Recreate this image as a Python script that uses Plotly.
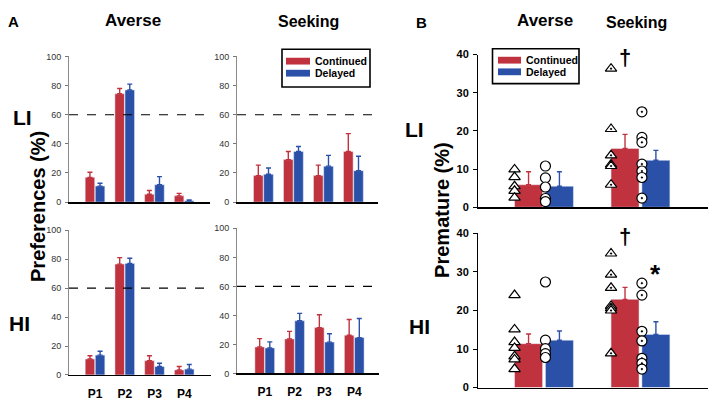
import plotly.graph_objects as go

# ---------------- data ----------------
positions = ["P1", "P2", "P3", "P4"]
groups = ["Averse", "Seeking"]
series_names = ["Continued", "Delayed"]

# Panel A - Preferences (%), mean and upper SEM
li_averse_cont = [17.0, 74.4, 5.4, 4.3]
li_averse_cont_err = [3.5, 3.6, 2.6, 1.7]
li_averse_del = [11.0, 77.0, 12.0, 1.0]
li_averse_del_err = [2.0, 4.0, 5.5, 0.5]
li_seek_cont = [18.2, 29.2, 18.2, 34.8]
li_seek_cont_err = [7.2, 5.6, 7.2, 12.2]
li_seek_del = [19.1, 34.8, 24.7, 21.6]
li_seek_del_err = [4.3, 3.4, 7.4, 9.9]
hi_averse_cont = [11.0, 76.6, 9.9, 3.4]
hi_averse_cont_err = [2.3, 4.5, 3.4, 2.4]
hi_averse_del = [13.7, 77.1, 5.8, 4.0]
hi_averse_del_err = [2.7, 3.6, 2.3, 3.2]
hi_seek_cont = [18.3, 23.8, 31.6, 26.3]
hi_seek_cont_err = [5.7, 5.2, 8.9, 10.9]
hi_seek_del = [17.6, 36.3, 21.6, 24.7]
hi_seek_del_err = [4.2, 5.1, 5.8, 13.2]
pref_ref_level = 60

# Panel B - Premature (%), mean and upper SEM
li_prem_cont = [5.9, 15.4]
li_prem_cont_err = [3.4, 3.7]
li_prem_del = [5.5, 12.3]
li_prem_del_err = [3.8, 2.6]
hi_prem_cont = [11.4, 22.9]
hi_prem_cont_err = [2.5, 3.1]
hi_prem_del = [12.3, 13.8]
hi_prem_del_err = [2.4, 3.3]

# individual animals (Averse list, Seeking list)
li_cont_pts = [[9.9, 7.9, 5.5, 4.3, 2.5], [36.3, 20.5, 13.6, 11.2, 10.8, 5.9]]
li_del_pts = [[10.8, 7.7, 5.3, 2.3, 1.5], [25.0, 18.3, 17.0, 11.3, 9.5, 7.8, 2.4]]
hi_cont_pts = [[24.0, 15.1, 11.8, 10.3, 8.1, 7.3, 4.8], [34.8, 29.3, 25.9, 21.2, 20.6, 20.0, 8.9]]
hi_del_pts = [[27.4, 12.3, 10.1, 8.8, 7.8], [27.1, 24.0, 14.6, 12.1, 7.6, 6.3, 4.8]]

# significance marks: (group, series, y, text)
li_marks = [("Seeking", "cont", 39.2, "†")]
hi_marks = [("Seeking", "cont", 39.1, "†"), ("Seeking", "del", 29.4, "*")]

# ---------------- style ----------------
RED = "#c1323f"
BLUE = "#2b50a8"
FONT = "Liberation Sans, Arial, sans-serif"
NARROW = "Liberation Sans Narrow, Arial Narrow, Liberation Sans, sans-serif"
W, H = 714, 412

fig = go.Figure()

A_W, A_RED_OFF, A_BLUE_OFF = 0.32, -0.33, 0.01
B_W, B_RED_OFF, B_BLUE_OFF = 0.29, -0.305, 0.015


def err(arr, col):
    return dict(type="data", array=arr, arrayminus=[0] * len(arr), symmetric=False,
                color=col, thickness=1.4, width=2.5)


def add_pair(x, cont, cont_e, dele, dele_e, ax, bw, roff, boff):
    fig.add_trace(go.Bar(x=x, y=cont, name=series_names[0], marker_color=RED, width=bw, offset=roff,
                         error_y=err(cont_e, RED), xaxis="x" + ax, yaxis="y" + ax, showlegend=False))
    fig.add_trace(go.Bar(x=x, y=dele, name=series_names[1], marker_color=BLUE, width=bw, offset=boff,
                         error_y=err(dele_e, BLUE), xaxis="x" + ax, yaxis="y" + ax, showlegend=False))


add_pair(positions, li_averse_cont, li_averse_cont_err, li_averse_del, li_averse_del_err, "", A_W, A_RED_OFF, A_BLUE_OFF)
add_pair(positions, li_seek_cont, li_seek_cont_err, li_seek_del, li_seek_del_err, "2", A_W, A_RED_OFF, A_BLUE_OFF)
add_pair(positions, hi_averse_cont, hi_averse_cont_err, hi_averse_del, hi_averse_del_err, "3", A_W, A_RED_OFF, A_BLUE_OFF)
add_pair(positions, hi_seek_cont, hi_seek_cont_err, hi_seek_del, hi_seek_del_err, "4", A_W, A_RED_OFF, A_BLUE_OFF)

gidx = list(range(len(groups)))
add_pair(gidx, li_prem_cont, li_prem_cont_err, li_prem_del, li_prem_del_err, "5", B_W, B_RED_OFF, B_BLUE_OFF)
add_pair(gidx, hi_prem_cont, hi_prem_cont_err, hi_prem_del, hi_prem_del_err, "6", B_W, B_RED_OFF, B_BLUE_OFF)


def add_points(pts, off, sym, size, ax):
    for gi, vals in enumerate(pts):
        s = sym if gi == 0 else sym + "-dot"
        fig.add_trace(go.Scatter(x=[gi + off] * len(vals), y=vals, mode="markers",
                                 marker=dict(symbol=s, size=size, color="white",
                                             line=dict(color="black", width=1.2)),
                                 xaxis="x" + ax, yaxis="y" + ax, showlegend=False))


add_points(li_cont_pts, B_RED_OFF, "triangle-up", 10, "5")
add_points(li_del_pts, B_BLUE_OFF, "circle", 10, "5")
add_points(hi_cont_pts, B_RED_OFF, "triangle-up", 10, "6")
add_points(hi_del_pts, B_BLUE_OFF, "circle", 10, "6")

annotations = []
for marks, ax in ((li_marks, "5"), (hi_marks, "6")):
    for g, s, yv, t in marks:
        off = (B_RED_OFF if s == "cont" else B_BLUE_OFF) + B_W / 2
        annotations.append(dict(x=groups.index(g) + off, y=yv, xref="x" + ax, yref="y" + ax,
                                text="<b>%s</b>" % t, showarrow=False,
                                font=dict(family=FONT, size=22 if t == "†" else 26, color="black")))

# dashed reference lines at 60 %
shapes = []
for ax in ("", "2", "3", "4"):
    shapes.append(dict(type="line", xref="x%s domain" % ax, yref="y%s" % ax, x0=0, x1=1,
                       y0=pref_ref_level, y1=pref_ref_level,
                       line=dict(color="black", width=1.2, dash="dash")))


def px(x):
    return x / W


def py(y):
    return (H - y) / H


def txt(t, x, y, size, angle=0, xanchor="center"):
    annotations.append(dict(text="<b>%s</b>" % t, x=px(x), y=py(y), xref="paper", yref="paper",
                            showarrow=False, xanchor=xanchor, yanchor="middle", textangle=angle,
                            font=dict(family=FONT, size=size, color="black")))


# hand-drawn legends (box, swatches, labels)
def legend_box(x0, x1, y0, y1, sw_x0, sw_x1, rows, text_x):
    shapes.append(dict(type="rect", xref="paper", yref="paper", x0=px(x0), x1=px(x1),
                       y0=py(y1), y1=py(y0), line=dict(color="black", width=1.6),
                       fillcolor="white", layer="above"))
    for (ya, yb), col, name in zip(rows, (RED, BLUE), series_names):
        shapes.append(dict(type="rect", xref="paper", yref="paper", x0=px(sw_x0), x1=px(sw_x1),
                           y0=py(yb), y1=py(ya), line=dict(width=0), fillcolor=col, layer="above"))
        txt(name, text_x, (ya + yb) / 2, 10.5, xanchor="left")


legend_box(282, 370, 44.5, 83.5, 286, 310, [(53.3, 60.3), (65.7, 72.7)], 313)
legend_box(492.5, 579, 44, 80, 498, 521, [(52.3, 59.3), (64.3, 71.3)], 524)

txt("A", 13, 16, 15)
txt("Averse", 133, 15, 17)
txt("Seeking", 308, 16, 16)
txt("B", 421, 17, 15)
txt("Averse", 545, 15, 17)
txt("Seeking", 636, 17, 16)
txt("LI", 22, 115, 21)
txt("HI", 19, 327, 21)
txt("LI", 414, 127, 21)
txt("HI", 419, 330, 21)
txt("Preferences (%)", 38, 207, 20, -90)
txt("Premature (%)", 442, 210, 20, -90)

A_YAX = dict(range=[0, 100], tickvals=[0, 20, 40, 60, 80, 100], ticks="outside", ticklen=3,
             tickcolor="#777", showline=True, linecolor="#8a8a8a", linewidth=1, showgrid=False,
             zeroline=False, tickfont=dict(family=NARROW, size=9, color="#333"), ticklabelstandoff=2)
B_YAX = dict(range=[0, 40], tickvals=[0, 10, 20, 30, 40], ticks="outside", ticklen=4,
             tickcolor="black", showline=True, linecolor="black", linewidth=1, showgrid=False,
             zeroline=False, tickfont=dict(family=FONT, size=11, color="black", weight="bold"),
             ticklabelstandoff=2)


def a_xax(dom, rng, labels, anchor):
    return dict(domain=dom, range=rng, type="category", anchor=anchor, showline=True,
                linecolor="black", linewidth=1.5, ticks="", showgrid=False, zeroline=False,
                showticklabels=labels,
                tickfont=dict(family=NARROW, size=12, color="black", weight="bold"),
                ticklabelstandoff=7)


B_XAX = dict(domain=[px(478), px(708)], range=[-0.684, 1.70], showline=True, linecolor="black",
             linewidth=1.5, ticks="", showgrid=False, zeroline=False, showticklabels=False)

fig.update_layout(
    width=W, height=H, autosize=False, margin=dict(l=0, r=0, t=0, b=0),
    paper_bgcolor="white", plot_bgcolor="white", barmode="overlay", showlegend=False,
    xaxis=a_xax([px(69), px(210)], [-0.875, 3.87], False, "y"),
    yaxis=dict(domain=[py(202), py(52)], anchor="x", **A_YAX),
    xaxis2=a_xax([px(237), px(378)], [-0.88, 3.82], False, "y2"),
    yaxis2=dict(domain=[py(202), py(52)], anchor="x2", **A_YAX),
    xaxis3=a_xax([px(69), px(211)], [-0.875, 3.9], True, "y3"),
    yaxis3=dict(domain=[py(380), py(231)], anchor="x3", **A_YAX),
    xaxis4=a_xax([px(237), px(379)], [-0.93, 3.83], True, "y4"),
    yaxis4=dict(domain=[py(378.5), py(229)], anchor="x4", **A_YAX),
    xaxis5=dict(anchor="y5", **B_XAX),
    yaxis5=dict(domain=[py(207.3), py(50)], anchor="x5", **B_YAX),
    xaxis6=dict(anchor="y6", **B_XAX),
    yaxis6=dict(domain=[py(393), py(234.3)], anchor="x6", **B_YAX),
    annotations=annotations, shapes=shapes,
)

fig.write_html(
    "out.html",
    config={"displayModeBar": False, "staticPlot": True},
    post_script="document.documentElement.style.margin='0';document.body.style.margin='0';"
                "document.body.style.padding='0';document.body.style.overflow='hidden';",
)
